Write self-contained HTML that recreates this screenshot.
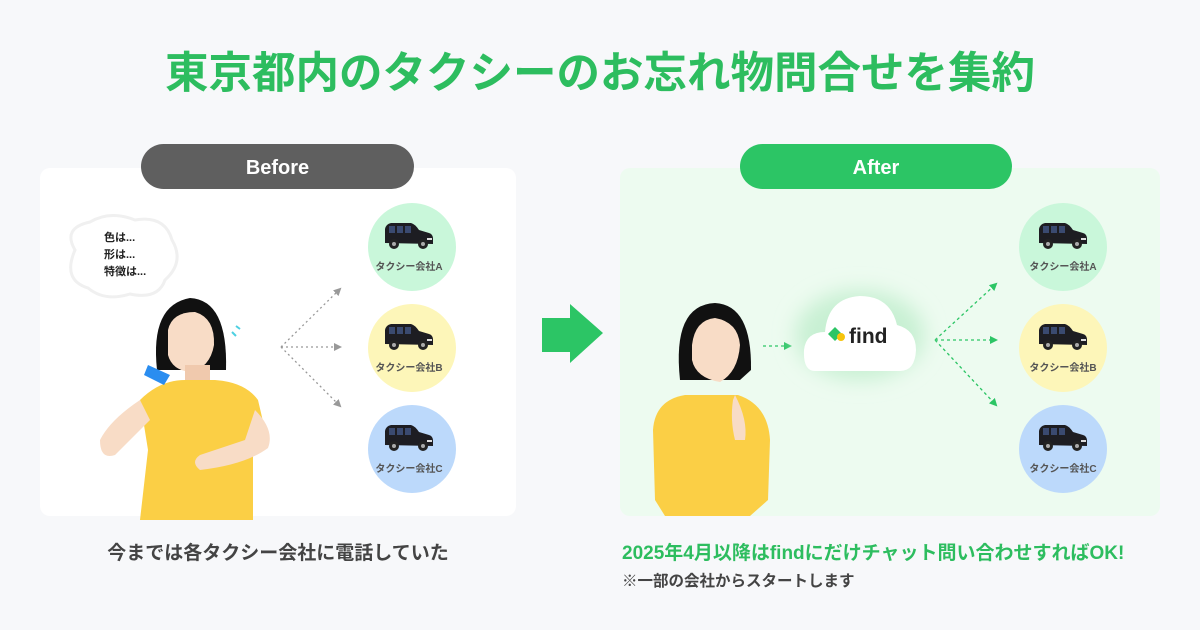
<!DOCTYPE html>
<html><head><meta charset="utf-8"><style>
body{margin:0;width:1200px;height:630px;overflow:hidden;background:#f7f8fa;font-family:"Liberation Sans","Noto Sans CJK JP",sans-serif}
svg{display:block}
</style></head><body>
<svg width="1200" height="630" viewBox="0 0 1200 630" xmlns="http://www.w3.org/2000/svg" font-family="Liberation Sans, Noto Sans CJK JP, sans-serif">
<defs>
<g id="car">
<path d="M-24,6 L-24,-8 Q-23,-13 -18,-14 L2,-14 Q6,-13 10,-7 L20,-4 Q24,-3 24,2 L24,7 Z" fill="#1d1d22"/>
<rect x="-20" y="-11" width="6" height="7" fill="#3a4a70"/><rect x="-12" y="-11" width="6" height="7" fill="#3a4a70"/><rect x="-4" y="-11" width="6" height="7" fill="#3a4a70"/>
<circle cx="-15" cy="7" r="5" fill="#222"/><circle cx="-15" cy="7" r="2" fill="#aaa"/>
<circle cx="14" cy="7" r="5" fill="#222"/><circle cx="14" cy="7" r="2" fill="#aaa"/>
<rect x="18" y="1" width="5" height="2" fill="#ddd"/>
</g>
<marker id="ag" markerWidth="8" markerHeight="8" refX="6" refY="4" orient="auto" markerUnits="userSpaceOnUse"><path d="M0,0 L8,4 L0,8Z" fill="#999"/></marker>
<marker id="agr" markerWidth="8" markerHeight="8" refX="6" refY="4" orient="auto" markerUnits="userSpaceOnUse"><path d="M0,0 L8,4 L0,8Z" fill="#2cc565"/></marker>
<filter id="sh" x="-50%" y="-50%" width="200%" height="200%"><feGaussianBlur stdDeviation="10"/></filter>
</defs>
<text x="600" y="88" text-anchor="middle" font-size="43.5" font-weight="bold" fill="#2dbd5f">東京都内のタクシーのお忘れ物問合せを集約</text>

<rect x="40" y="168" width="476" height="348" rx="10" fill="#fff"/>
<rect x="620" y="168" width="540" height="348" rx="10" fill="#edfbf0"/>
<rect x="141" y="144" width="273" height="45" rx="22.5" fill="#5f5f5f"/>
<text x="277.5" y="174" text-anchor="middle" font-size="20" font-weight="bold" fill="#fff">Before</text>
<rect x="740" y="144" width="272" height="45" rx="22.5" fill="#2cc565"/>
<text x="876" y="174" text-anchor="middle" font-size="20" font-weight="bold" fill="#fff">After</text>

<circle cx="412" cy="247" r="44" fill="#c9f7da"/><circle cx="412" cy="348" r="44" fill="#fdf6b9"/><circle cx="412" cy="449" r="44" fill="#bcd9fb"/>
<use href="#car" x="409" y="237"/><use href="#car" x="409" y="338"/><use href="#car" x="409" y="439"/>
<g font-size="10" font-weight="bold" fill="#555" text-anchor="middle">
<text x="409" y="270">タクシー会社A</text><text x="409" y="371">タクシー会社B</text><text x="409" y="472">タクシー会社C</text>
</g>
<circle cx="1063" cy="247" r="44" fill="#c9f7da"/><circle cx="1063" cy="348" r="44" fill="#fdf6b9"/><circle cx="1063" cy="449" r="44" fill="#bcd9fb"/>
<use href="#car" x="1063" y="237"/><use href="#car" x="1063" y="338"/><use href="#car" x="1063" y="439"/>
<g font-size="10" font-weight="bold" fill="#555" text-anchor="middle">
<text x="1063" y="270">タクシー会社A</text><text x="1063" y="371">タクシー会社B</text><text x="1063" y="472">タクシー会社C</text>
</g>

<g stroke="#999" stroke-width="1.3" stroke-dasharray="2,3" fill="none">
<path d="M281,347 L340,289" marker-end="url(#ag)"/><path d="M281,347 L340,347" marker-end="url(#ag)"/><path d="M281,347 L340,406" marker-end="url(#ag)"/>
</g>
<g stroke="#2cc565" stroke-width="1.3" stroke-dasharray="3,3" fill="none">
<path d="M935,340 L996,284" marker-end="url(#agr)"/><path d="M935,340 L996,340" marker-end="url(#agr)"/><path d="M935,340 L996,405" marker-end="url(#agr)"/>
<path d="M763,346 L790,346" marker-end="url(#agr)"/>
</g>

<path d="M75,250 Q62,228 90,222 Q110,210 135,220 Q165,215 172,240 Q185,262 165,280 Q158,300 130,294 Q105,302 88,288 Q62,280 75,250Z" fill="#fff" stroke="#f0f0f0" stroke-width="3"/>
<g font-size="11" font-weight="bold" fill="#222"><text x="104" y="241">色は...</text><text x="104" y="258">形は...</text><text x="104" y="275">特徴は...</text></g>

<path d="M157,370 Q150,305 190,298 Q228,300 226,370 Z" fill="#111"/>
<path d="M168,330 Q172,312 195,312 Q215,318 214,345 Q210,368 190,372 Q172,370 168,355Z" fill="#f8dcc6"/>
<rect x="185" y="365" width="25" height="20" fill="#f0c9ad"/>
<path d="M140,400 Q160,380 185,380 L215,380 Q245,382 258,400 L265,430 L253,445 L253,520 L140,520 L148,450Z" fill="#fbcf45"/>
<path d="M140,400 Q110,420 100,440 Q100,460 115,455 L150,420 Z" fill="#f8dcc6"/>
<path d="M255,410 Q275,430 268,448 Q245,465 200,470 Q190,462 200,455 L245,440 Z" fill="#f8dcc6"/>
<path d="M148,365 L170,375 L164,385 L144,375Z" fill="#2a8df0"/>
<path d="M232,332 l4,4 M236,326 l4,3" stroke="#4dd0e1" stroke-width="2"/>

<path d="M542,318 L570,318 L570,304 L603,333 L570,363 L570,352 L542,352Z" fill="#2cc565"/>

<ellipse cx="860" cy="335" rx="65" ry="45" fill="#c8f0d3" filter="url(#sh)"/>
<path d="M815,371 Q803,371 804,350 Q806,332 825,332 Q828,298 860,296 Q890,296 897,325 Q916,330 916,350 Q915,371 900,371Z" fill="#fff"/>
<path d="M828,334 L835,327 L842,334 L835,341Z" fill="#2cc565"/><circle cx="841" cy="337" r="4" fill="#f6c40c"/>
<text x="849" y="343" font-size="21" font-weight="bold" fill="#222">find</text>

<path d="M680,380 Q672,305 715,303 Q752,305 751,370 L740,380 Z" fill="#111"/>
<path d="M692,345 Q695,320 715,318 Q738,322 740,345 Q738,372 720,382 Q696,378 692,360Z" fill="#f8dcc6"/>
<path d="M653,430 Q655,400 685,395 L738,395 Q768,405 770,440 L768,500 L750,516 L665,516 L655,500Z" fill="#fbcf45"/>
<path d="M735,395 Q748,420 745,440 L735,440 Q730,420 733,400Z" fill="#f8dcc6"/>

<text x="278" y="559" text-anchor="middle" font-size="19" font-weight="bold" fill="#444">今までは各タクシー会社に電話していた</text>
<text x="622" y="559" font-size="19" font-weight="bold" fill="#2dbd5f">2025年4月以降はfindにだけチャット問い合わせすればOK!</text>
<text x="622" y="586" font-size="15.5" font-weight="bold" fill="#444">※一部の会社からスタートします</text>
</svg>
</body></html>
